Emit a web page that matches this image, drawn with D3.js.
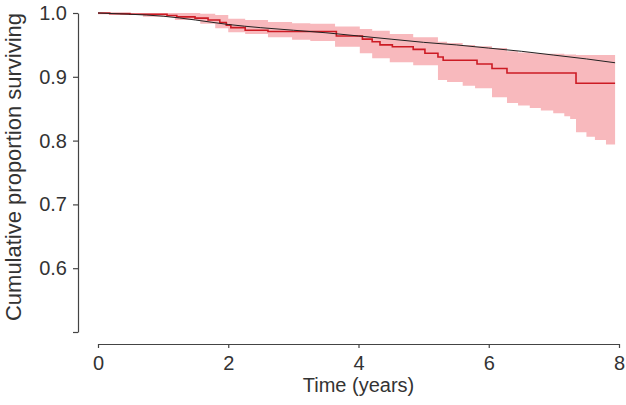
<!DOCTYPE html>
<html>
<head>
<meta charset="utf-8">
<script src="https://cdn.jsdelivr.net/npm/d3@7"></script>
<style>
  html, body { margin: 0; padding: 0; background: #fff; }
  svg { display: block; }
  text { font-family: "Liberation Sans", Arial, sans-serif; fill: #333; }
</style>
</head>
<body>
<svg id="chart" width="626" height="405"></svg>
<script>
// ---- Data ----
// Kaplan-Meier observed survival (step curve)
const kmTime = [0, 0.18, 0.49, 1.06, 1.21, 1.49, 1.69, 1.87, 1.97, 2.04, 2.26, 2.61, 3.66, 4.06, 4.21, 4.33, 4.52, 4.84, 5.02, 5.22, 5.30, 5.82, 6.05, 6.28, 7.34, 7.94];
const kmSurv = [1.0, 0.999, 0.998, 0.996, 0.994, 0.992, 0.989, 0.985, 0.981, 0.977, 0.973, 0.971, 0.964, 0.959, 0.955, 0.950, 0.947, 0.943, 0.937, 0.931, 0.926, 0.920, 0.913, 0.906, 0.890, 0.890];

// Confidence band
const bandTime  = [0, 0.34, 0.69, 1.18, 1.57, 1.80, 2.00, 2.26, 2.61, 2.98, 3.26, 3.64, 4.02, 4.21, 4.48, 4.84, 5.22, 5.36, 5.60, 5.79, 6.05, 6.28, 6.45, 6.63, 6.80, 6.99, 7.16, 7.25, 7.34, 7.50, 7.63, 7.80, 7.94];
const bandUpper = [1.0, 1.0, 1.0, 1.0, 0.999, 0.997, 0.991, 0.989, 0.986, 0.984, 0.983, 0.979, 0.975, 0.972, 0.967, 0.962, 0.955, 0.953, 0.950, 0.948, 0.945, 0.940, 0.938, 0.937, 0.936, 0.936, 0.935, 0.935, 0.934, 0.934, 0.934, 0.934, 0.934];
const bandLower = [0.998, 0.997, 0.994, 0.989, 0.983, 0.976, 0.970, 0.967, 0.962, 0.958, 0.956, 0.947, 0.937, 0.929, 0.923, 0.918, 0.895, 0.892, 0.886, 0.882, 0.868, 0.859, 0.855, 0.851, 0.847, 0.843, 0.838, 0.834, 0.813, 0.806, 0.801, 0.794, 0.788];

// Expected survival (smooth)
const expTime = [0, 0.5, 1, 1.5, 2, 2.5, 3, 3.5, 4, 4.5, 5, 5.5, 6, 6.5, 7, 7.5, 7.94];
const expSurv = [1.0, 0.998, 0.995, 0.989, 0.982, 0.977, 0.973, 0.969, 0.964, 0.959, 0.954, 0.950, 0.945, 0.940, 0.934, 0.928, 0.922];

const xTicks = [0, 2, 4, 6, 8];
const yTicks = [0.5, 0.6, 0.7, 0.8, 0.9, 1.0];

// ---- Chart ----
const svg = d3.select("#chart");
const x = d3.scaleLinear().domain([0, 8]).range([98, 619]);
const y = d3.scaleLinear().domain([0.5, 1.0]).range([332, 13]);

const band = bandTime.map((t, i) => ({ t, lo: bandLower[i], hi: bandUpper[i] }));
svg.append("path")
  .datum(band)
  .attr("fill", "#f8b9bd")
  .attr("stroke", "none")
  .attr("d", d3.area().curve(d3.curveStepAfter)
    .x(d => x(d.t)).y0(d => y(d.lo)).y1(d => y(d.hi)));

const km = kmTime.map((t, i) => ({ t, v: kmSurv[i] }));
svg.append("path")
  .datum(km)
  .attr("fill", "none")
  .attr("stroke", "#cc1b24")
  .attr("stroke-width", 1.6)
  .attr("d", d3.line().curve(d3.curveStepAfter).x(d => x(d.t)).y(d => y(d.v)));

const ex = expTime.map((t, i) => ({ t, v: expSurv[i] }));
svg.append("path")
  .datum(ex)
  .attr("fill", "none")
  .attr("stroke", "#222")
  .attr("stroke-width", 1)
  .attr("d", d3.line().curve(d3.curveMonotoneX).x(d => x(d.t)).y(d => y(d.v)));

// Axes
const yAxis = d3.axisLeft(y).tickValues(yTicks).tickSize(5).tickSizeOuter(0)
  .tickFormat(d => d === 0.5 ? "" : d3.format(".1f")(d));
const gy = svg.append("g").attr("transform", "translate(78,0)").call(yAxis);
gy.selectAll("path, line").attr("stroke", "#444").attr("stroke-width", 1.2);
gy.selectAll("text").attr("font-size", 20).attr("x", -11).attr("fill", "#333")
  .style("font-family", "'Liberation Sans', Arial, sans-serif");

const xAxis = d3.axisBottom(x).tickValues(xTicks).tickSize(4).tickSizeOuter(0)
  .tickFormat(d3.format("d"));
const gx = svg.append("g").attr("transform", "translate(0,344)").call(xAxis);
gx.selectAll("path, line").attr("stroke", "#444").attr("stroke-width", 1.2);
gx.selectAll("text").attr("font-size", 20).attr("y", 12).attr("fill", "#333")
  .style("font-family", "'Liberation Sans', Arial, sans-serif");

// Titles
svg.append("text")
  .attr("x", (x(0) + x(8)) / 2).attr("y", 392)
  .attr("text-anchor", "middle").attr("font-size", 20)
  .text("Time (years)");

svg.append("text")
  .attr("transform", "translate(21,167) rotate(-90)")
  .attr("text-anchor", "middle").attr("font-size", 22)
  .text("Cumulative proportion surviving");
</script>
</body>
</html>
